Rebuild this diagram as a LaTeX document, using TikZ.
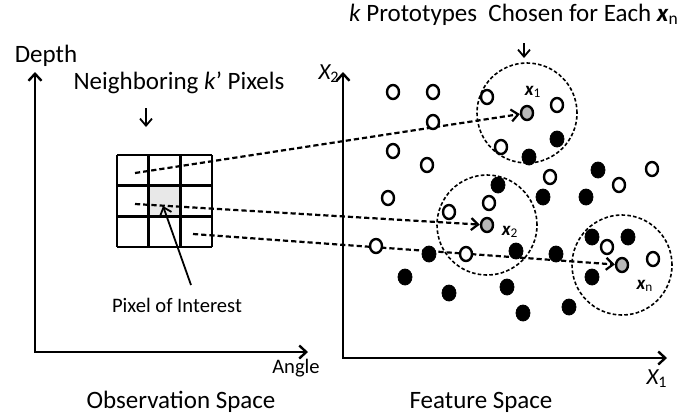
\documentclass[tikz,border=0pt]{standalone}
\usepackage{fontspec}
\setmainfont{Carlito}
\usetikzlibrary{arrows.meta, backgrounds, shapes.geometric}

\tikzset{
  lbl/.style={font=\fontsize{12.5}{15}\selectfont, inner sep=0pt, anchor=base},
  small/.style={font=\fontsize{10.3}{12}\selectfont, inner sep=0pt, anchor=base},
  var/.style={font=\fontsize{9.5}{11}\selectfont\bfseries\itshape, inner sep=0pt},
  axislbl/.style={font=\fontsize{11.5}{13}\selectfont\itshape, inner sep=0pt, anchor=base east},
  axis/.style={line width=1.2pt, {Straight Barb[length=3.5pt,width=6.5pt]}-{Straight Barb[length=3.5pt,width=6.5pt]}},
  tick/.style={line width=0.9pt, -{Straight Barb[length=3.5pt,width=6pt]}},
  dasharrow/.style={line width=1.1pt, dash pattern=on 2.6pt off 1.5pt, -{Straight Barb[length=3.5pt,width=6pt]}},
  nbhd/.style={line width=0.8pt, dash pattern=on 1.8pt off 1.1pt},
  wdot/.style={ellipse, draw, line width=1.2pt, fill=white, minimum width=6pt, minimum height=7pt, inner sep=0pt},
  bdot/.style={ellipse, draw, fill=black, minimum width=7pt, minimum height=8pt, inner sep=0pt},
  gdot/.style={wdot, fill=gray!55}
}

\begin{document}
\begin{tikzpicture}[x=0.5pt, y=-0.5pt]
    \useasboundingbox (0,0) rectangle (699,414);

    % Observation space
    \coordinate (otop) at (35,72);
    \coordinate (oorig) at (35,352);
    \coordinate (oright) at (308,352);
    \draw[axis] (otop) -- (oorig) -- (oright);
    \node[lbl] (depth) at (46,62) {Depth};
    \node[small] (angle) at (296,373) {Angle};
    \node[lbl] (obs) at (181,408) {Observation Space};

    % Pixel grid
    \foreach \i in {0,...,3} {
        \draw[line width=1.3pt] (117+31.67*\i,155) -- (117+31.67*\i,247);
        \draw[line width=1.3pt] (117,155+30.67*\i) -- (212,155+30.67*\i);
    }
    \node[lbl] (nbr) at (179,89) {Neighboring \textit{k}’ Pixels};
    \coordinate (nbrtop) at (146,108);
    \coordinate (nbrtip) at (146,127);
    \draw[tick] (nbrtop) -- (nbrtip);

    \node[small] (poi) at (177,312) {Pixel of Interest};
    \coordinate (poitip) at (163,206);
    \draw[tick] (191,285) -- (poitip);

    \coordinate (s1) at (135,173);
    \coordinate (s2) at (135,204);
    \coordinate (s3) at (193,234);

    % Feature space
    \coordinate (ftop) at (343,72);
    \coordinate (forig) at (343,358);
    \coordinate (fright) at (667,358);
    \draw[axis] (ftop) -- (forig) -- (fright);
    \node[axislbl] (xtwo) at (340,79) {X\textsubscript{\upshape 2}};
    \node[axislbl] (xone) at (668,384) {X\textsubscript{\upshape 1}};
    \node[lbl] (feat) at (481,408) {Feature Space};

    \node[lbl] (title) at (514,21) {\textit{k} Prototypes\ \ Chosen for Each \textbf{\textit{x}}\textsubscript{n}};
    \coordinate (titletop) at (524,43);
    \coordinate (titletip) at (524,58);
    \draw[tick] (titletop) -- (titletip);

    % Samples
    \foreach [count=\i] \p in {(393,92),(433,92),(487,97),(433,122),(393,151),(501,147),
        (427,165),(388,198),(489,203),(449,212),(557,105),(550,177),(652,169),(619,185),
        (376,246),(466,254),(607,247),(653,259)}
        \node[wdot] (w\i) at \p {};
    \foreach [count=\i] \p in {(498,185),(557,139),(529,157),(598,170),(543,197),(586,197),
        (429,254),(516,251),(405,277),(449,293),(507,287),(523,313),(556,254),(569,307),
        (592,237),(628,237),(592,277)}
        \node[bdot] (b\i) at \p {};

    \node[gdot] (p1) at (527,113) {};
    \node[gdot] (p2) at (487,225) {};
    \node[gdot] (pn) at (622,265) {};
    \node[var] (l1) at (533,92) {x\textsubscript{\mdseries\upshape 1}};
    \node[var] (l2) at (510,232) {x\textsubscript{\mdseries\upshape 2}};
    \node[var] (ln) at (645,286) {x\textsubscript{\mdseries\upshape n}};

    \begin{scope}[on background layer]
        \fill[gray!18] (148.67,185.67) rectangle (180.33,216.33);
        \draw[nbhd] (p1) circle[radius=25pt];
        \draw[nbhd] (p2) circle[radius=25pt];
        \draw[nbhd] (pn) circle[radius=25pt];
        \draw[dasharrow] (s1) -- (p1);
        \draw[dasharrow] (s2) -- (p2);
        \draw[dasharrow] (s3) -- (pn);
    \end{scope}
\end{tikzpicture}
\end{document}
